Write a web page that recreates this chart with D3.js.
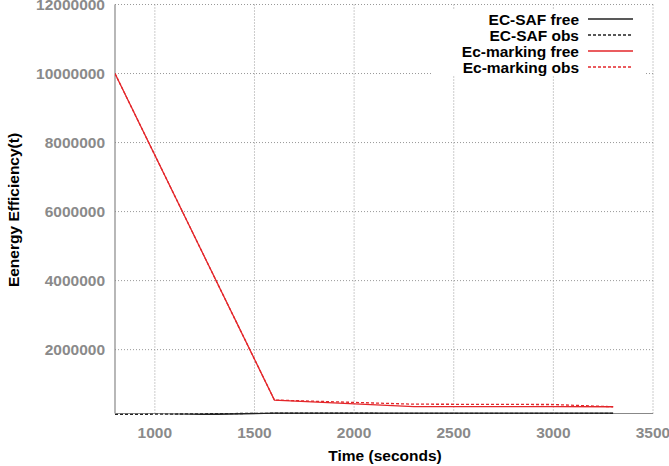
<!DOCTYPE html>
<html lang="en">
<head>
<meta charset="utf-8">
<title>Energy efficiency over time</title>
<script src="https://cdn.jsdelivr.net/npm/d3@7"></script>
<style>
  body { margin: 0; background: #fff; }
  text { font-family: "Liberation Sans", Arial, sans-serif; font-weight: bold; }
  .tick-label { fill: #8a8a8a; font-size: 15.5px; }
  .axis-title { fill: #000; font-size: 15.5px; }
  .grid line { stroke: #999; stroke-width: 1; stroke-dasharray: 1,2; }
  .legend text { font-size: 15.5px; fill: #000; }
</style>
</head>
<body>
<script>
// values
var timeSec        = [800, 1600, 2300, 3000, 3300];
var ecSafFree      = [60000, 162000, 160000, 158000, 158000];
var ecSafObs       = [120000, 158000, 156000, 155000, 155000];
var ecMarkingFree  = [10000000, 540000, 350000, 348000, 345000];
var ecMarkingObs   = [10000000, 540000, 420000, 410000, 345000];

var xTicks = [1000, 1500, 2000, 2500, 3000, 3500];
var yTicks = [2000000, 4000000, 6000000, 8000000, 10000000, 12000000];

var seriesNames = ["EC-SAF free", "EC-SAF obs", "Ec-marking free", "Ec-marking obs"];
var seriesColors = ["#222", "#222", "#e3262a", "#e3262a"];
var seriesDash = [null, "3,2", null, "3,2"];
var seriesValues = [ecSafFree, ecSafObs, ecMarkingFree, ecMarkingObs];

var w = 669, h = 466;
var pLeft = 115, pRight = 653, pTop = 4.5, pBottom = 413.5;

var svg = d3.select("body").append("svg")
    .attr("width", w)
    .attr("height", h);

var x = d3.scaleLinear().domain([800, 3500]).range([pLeft, pRight]);
var y = d3.scaleLinear().domain([150000, 12000000]).range([pBottom, pTop]);

// grid
var grid = svg.append("g").attr("class", "grid");
grid.selectAll("line.gx")
    .data(xTicks)
    .enter().append("line")
    .attr("class", "gx")
    .attr("x1", function(d) { return x(d); })
    .attr("x2", function(d) { return x(d); })
    .attr("y1", pTop)
    .attr("y2", pBottom);
grid.selectAll("line.gy")
    .data(yTicks)
    .enter().append("line")
    .attr("class", "gy")
    .attr("x1", pLeft)
    .attr("x2", pRight)
    .attr("y1", function(d) { return y(d); })
    .attr("y2", function(d) { return y(d); });

// left and bottom axes (solid)
svg.append("line")
    .attr("x1", pLeft).attr("x2", pLeft)
    .attr("y1", pTop).attr("y2", pBottom)
    .attr("stroke", "#888").attr("stroke-width", 1.2);
svg.append("line")
    .attr("x1", pLeft).attr("x2", pRight)
    .attr("y1", pBottom).attr("y2", pBottom)
    .attr("stroke", "#888").attr("stroke-width", 1.2);

// tick labels
svg.selectAll("text.xl")
    .data(xTicks)
    .enter().append("text")
    .attr("class", "tick-label xl")
    .attr("x", function(d) { return x(d); })
    .attr("y", 438)
    .attr("text-anchor", "middle")
    .text(function(d) { return d; });
svg.selectAll("text.yl")
    .data(yTicks)
    .enter().append("text")
    .attr("class", "tick-label yl")
    .attr("x", 105)
    .attr("y", function(d) { return y(d) + 5.5; })
    .attr("text-anchor", "end")
    .text(function(d) { return d; });

// axis titles
svg.append("text")
    .attr("class", "axis-title")
    .attr("x", 385)
    .attr("y", 461)
    .attr("text-anchor", "middle")
    .text("Time (seconds)");
svg.append("text")
    .attr("class", "axis-title")
    .attr("transform", "translate(19,210) rotate(-90)")
    .attr("text-anchor", "middle")
    .text("Eenergy Efficiency(t)");

// lines (clip a bit below the axis so the lines sitting on it stay whole)
svg.append("clipPath").attr("id", "plot")
    .append("rect")
    .attr("x", pLeft).attr("y", pTop)
    .attr("width", pRight - pLeft).attr("height", pBottom - pTop + 1.5);

var line = d3.line()
    .x(function(d, i) { return x(timeSec[i]); })
    .y(function(d) { return y(d); });

var lines = svg.append("g").attr("clip-path", "url(#plot)");
seriesValues.forEach(function(vals, k) {
    lines.append("path")
        .attr("d", line(vals))
        .attr("fill", "none")
        .attr("stroke", seriesColors[k])
        .attr("stroke-width", 1.3)
        .attr("stroke-dasharray", seriesDash[k]);
});

// legend with white background
var lg = svg.append("g").attr("class", "legend");
lg.append("rect")
    .attr("x", 433).attr("y", 10)
    .attr("width", 212).attr("height", 66)
    .attr("fill", "#fff");
seriesNames.forEach(function(name, k) {
    var ly = 19 + k * 16;
    lg.append("text")
        .attr("x", 579)
        .attr("y", ly + 5.5)
        .attr("text-anchor", "end")
        .text(name);
    lg.append("line")
        .attr("x1", 588).attr("x2", 633)
        .attr("y1", ly).attr("y2", ly)
        .attr("stroke", seriesColors[k])
        .attr("stroke-width", 1.3)
        .attr("stroke-dasharray", seriesDash[k]);
});
</script>
</body>
</html>
